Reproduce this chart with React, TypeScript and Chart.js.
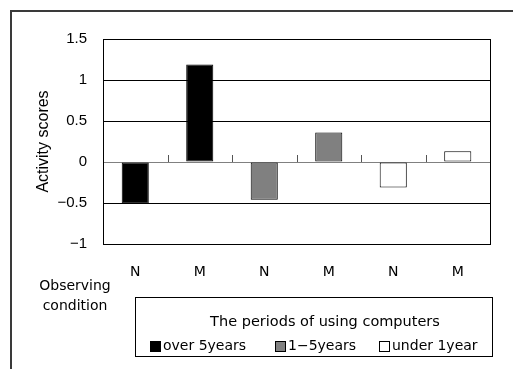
import React, { useEffect, useRef } from "react";
import { Chart, registerables } from "chart.js";

Chart.register(...registerables);

const categories = ["N", "M", "N", "M", "N", "M"];
const seriesNames = ["over 5years", "1\u22125years", "under 1year"];
const over5 = [-0.51, 1.19, null, null, null, null];
const oneToFive = [null, null, -0.46, 0.36, null, null];
const under1 = [null, null, null, null, -0.31, 0.13];
const seriesColors = ["#000000", "#808080", "#ffffff"];
const legendTitle = "The periods of using computers";
const yTitle = "Activity scores";
const xTitleLines = ["Observing", "condition"];
const yMin = -1;
const yMax = 1.5;
const yStep = 0.5;

const SANS = "'DejaVu Sans', sans-serif";
const ARIAL = "'Liberation Sans', Arial, sans-serif";

const decorPlugin = {
  id: "decor",
  beforeDraw(chart: any) {
    const ctx = chart.ctx;
    ctx.save();
    ctx.fillStyle = "#ffffff";
    ctx.fillRect(0, 0, chart.width, chart.height);
    ctx.restore();
  },
  afterDatasetsDraw(chart: any) {
    const ctx = chart.ctx;
    const ca = chart.chartArea;
    const x = chart.scales.x;
    const y = chart.scales.y;
    ctx.save();
    // category tick marks on zero line
    const y0 = y.getPixelForValue(0);
    ctx.strokeStyle = "#555555";
    ctx.lineWidth = 1;
    for (let i = 1; i < categories.length; i++) {
      const px = Math.round((x.getPixelForValue(i - 1) + x.getPixelForValue(i)) / 2) + 0.5;
      ctx.beginPath();
      ctx.moveTo(px, y0 - 7);
      ctx.lineTo(px, y0);
      ctx.stroke();
    }
    // plot frame
    ctx.strokeStyle = "#000000";
    ctx.lineWidth = 1;
    ctx.strokeRect(Math.round(ca.left) + 0.5, Math.round(ca.top) + 0.5, Math.round(ca.right - ca.left), Math.round(ca.bottom - ca.top));
    ctx.restore();
  },
  afterDraw(chart: any) {
    const ctx = chart.ctx;
    ctx.save();
    // outer frame
    ctx.strokeStyle = "#3a3a3a";
    ctx.lineWidth = 2;
    ctx.strokeRect(11, 11, 600, 500);

    // x axis title
    ctx.fillStyle = "#000000";
    ctx.font = `14px ${SANS}`;
    ctx.textAlign = "center";
    ctx.textBaseline = "middle";
    ctx.fillText(xTitleLines[0], 75, 286);
    ctx.fillText(xTitleLines[1], 75, 306);

    // legend box
    const lx = 135.5, ly = 297.5, lw = 357, lh = 59;
    ctx.strokeStyle = "#000000";
    ctx.lineWidth = 1;
    ctx.strokeRect(lx, ly, lw, lh);
    ctx.font = `14.5px ${SANS}`;
    ctx.fillText(legendTitle, 325, 322);

    const itemX = [150, 275, 379];
    const itemY = 346;
    ctx.font = `14px ${SANS}`;
    ctx.textAlign = "left";
    chart.data.datasets.forEach((ds: any, i: number) => {
      const sx = itemX[i];
      ctx.fillStyle = ds.backgroundColor;
      ctx.fillRect(sx, itemY - 5, 10, 10);
      ctx.strokeStyle = "#000000";
      ctx.strokeRect(sx + 0.5, itemY - 5 + 0.5, 10, 10);
      ctx.fillStyle = "#000000";
      ctx.fillText(ds.label, sx + 13, itemY);
    });
    ctx.restore();
  },
};

function fmt(v: number) {
  if (v < 0) return "\u2212" + String(Math.abs(v));
  return String(v);
}

export default function App() {
  const ref = useRef<HTMLCanvasElement>(null);
  useEffect(() => {
    if (!ref.current) return;
    const makeDs = (label: string, data: (number | null)[], color: string) => ({
      label,
      data,
      backgroundColor: color,
      borderColor: "#000000",
      borderWidth: 1,
      borderSkipped: false,
      grouped: false,
      barPercentage: 0.42,
      categoryPercentage: 1,
    });
    const chart = new Chart(ref.current, {
      type: "bar",
      data: {
        labels: categories,
        datasets: [
          makeDs(seriesNames[0], over5, seriesColors[0]),
          makeDs(seriesNames[1], oneToFive, seriesColors[1]),
          makeDs(seriesNames[2], under1, seriesColors[2]),
        ],
      },
      options: {
        responsive: false,
        animation: false,
        devicePixelRatio: 1,
        layout: { padding: { left: 30, top: 39, right: 23, bottom: 85 } },
        plugins: {
          legend: { display: false },
          tooltip: { enabled: false },
          title: { display: false },
        },
        scales: {
          x: {
            type: "category",
            grid: { display: false, drawTicks: false },
            border: { display: true, color: "#000000" },
            ticks: { color: "#000000", font: { family: SANS, size: 14 }, padding: 20, maxRotation: 0, autoSkip: false },
            afterFit: (s: any) => { s.height = 40; },
          },
          y: {
            min: yMin,
            max: yMax,
            grid: {
              drawTicks: false,
              color: (c: any) => (c.tick && c.tick.value === 0 ? "#808080" : "#000000"),
              lineWidth: 1,
            },
            border: { display: true, color: "#000000" },
            ticks: {
              stepSize: yStep,
              color: "#000000",
              font: { family: ARIAL, size: 15 },
              padding: 16,
              callback: (v: any) => fmt(Number(v)),
            },
            title: {
              display: true,
              text: yTitle,
              color: "#000000",
              font: { family: ARIAL, size: 16 },
              padding: { top: 4, bottom: 4 },
            },
            afterFit: (s: any) => { s.width = 73; },
          },
        },
      },
      plugins: [decorPlugin],
    } as any);
    return () => chart.destroy();
  }, []);
  return (
    <div style={{ position: "fixed", left: 0, top: 0, width: 513, height: 369, background: "#fff" }}>
      <canvas ref={ref} width={513} height={369} style={{ display: "block", width: 513, height: 369 }} />
    </div>
  );
}
